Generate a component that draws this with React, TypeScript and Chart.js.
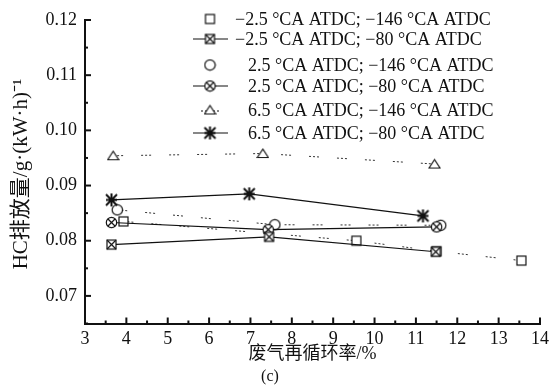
import React, { useEffect, useRef } from "react";
import { Chart, registerables } from "chart.js";

Chart.register(...registerables);

// ---- data ----
const xTicksMajor = [3, 4, 5, 6, 7, 8, 9, 10, 11, 12, 13, 14];
const yTicksMajor = [0.07, 0.08, 0.09, 0.1, 0.11, 0.12];

const s1X = [3.93, 9.56, 11.5, 13.55];
const s1Y = [0.0835, 0.08, 0.0781, 0.0764];
const s2X = [3.64, 7.45, 11.48];
const s2Y = [0.0793, 0.0807, 0.078];
const s3X = [3.78, 7.59, 11.6];
const s3Y = [0.0856, 0.0829, 0.0828];
const s4X = [3.64, 7.43, 11.5];
const s4Y = [0.0833, 0.082, 0.0825];
const s5X = [3.68, 7.3, 11.45];
const s5Y = [0.0954, 0.0958, 0.0939];
const s6X = [3.64, 6.97, 11.17];
const s6Y = [0.0874, 0.0885, 0.0845];

const seriesLabels = [
  "\u22122.5 \u00B0CA ATDC; \u2212146 \u00B0CA ATDC",
  "\u22122.5 \u00B0CA ATDC; \u221280 \u00B0CA ATDC",
  "2.5 \u00B0CA ATDC; \u2212146 \u00B0CA ATDC",
  "2.5 \u00B0CA ATDC; \u221280 \u00B0CA ATDC",
  "6.5 \u00B0CA ATDC; \u2212146 \u00B0CA ATDC",
  "6.5 \u00B0CA ATDC; \u221280 \u00B0CA ATDC",
];

const xTitle = "废气再循环率/%";
const yTitle = "HC排放量/g·(kW·h)\u207B\u00B9";
const caption = "(c)";

const FONT = "'Liberation Serif', 'Times New Roman', 'Noto Sans CJK SC', serif";
const INK = "#111";

function makeMarker(kind: string): HTMLCanvasElement {
  const size = kind === "star" ? 15 : 13;
  const c = document.createElement("canvas");
  c.width = size;
  c.height = size;
  const g = c.getContext("2d")!;
  const m = size / 2;
  g.strokeStyle = INK;
  g.fillStyle = "#fff";
  g.lineWidth = 1.2;
  if (kind === "square" || kind === "xsquare") {
    const h = 4.5;
    g.fillRect(m - h, m - h, 2 * h, 2 * h);
    g.strokeRect(m - h, m - h, 2 * h, 2 * h);
    if (kind === "xsquare") {
      g.beginPath();
      g.moveTo(m - h, m - h);
      g.lineTo(m + h, m + h);
      g.moveTo(m + h, m - h);
      g.lineTo(m - h, m + h);
      g.stroke();
    }
  } else if (kind === "circle" || kind === "xcircle") {
    const r = 5.2;
    g.beginPath();
    g.arc(m, m, r, 0, Math.PI * 2);
    g.fill();
    g.stroke();
    if (kind === "xcircle") {
      const d = r * 0.72;
      g.beginPath();
      g.moveTo(m - d, m - d);
      g.lineTo(m + d, m + d);
      g.moveTo(m + d, m - d);
      g.lineTo(m - d, m + d);
      g.stroke();
    }
  } else if (kind === "triangle") {
    g.beginPath();
    g.moveTo(m, m - 4.5);
    g.lineTo(m + 5.5, m + 4);
    g.lineTo(m - 5.5, m + 4);
    g.closePath();
    g.fill();
    g.stroke();
  } else if (kind === "star") {
    g.lineWidth = 2;
    const d = 5.5;
    g.beginPath();
    g.moveTo(m - d, m - d);
    g.lineTo(m + d, m + d);
    g.moveTo(m + d, m - d);
    g.lineTo(m - d, m + d);
    g.moveTo(m, m - d - 1);
    g.lineTo(m, m + d + 1);
    g.moveTo(m - d, m);
    g.lineTo(m + d, m);
    g.stroke();
  }
  return c;
}

const DASH = [2, 2, 2, 2, 2, 18];

export default function App() {
  const ref = useRef<HTMLCanvasElement | null>(null);

  useEffect(() => {
    document.body.style.margin = "0";
    const canvas = ref.current!;
    const markers = {
      square: makeMarker("square"),
      xsquare: makeMarker("xsquare"),
      circle: makeMarker("circle"),
      xcircle: makeMarker("xcircle"),
      triangle: makeMarker("triangle"),
      star: makeMarker("star"),
    };
    const defs = [
      { x: s1X, y: s1Y, m: markers.square, dashed: true },
      { x: s2X, y: s2Y, m: markers.xsquare, dashed: false },
      { x: s3X, y: s3Y, m: markers.circle, dashed: true },
      { x: s4X, y: s4Y, m: markers.xcircle, dashed: false },
      { x: s5X, y: s5Y, m: markers.triangle, dashed: true },
      { x: s6X, y: s6Y, m: markers.star, dashed: false },
    ];

    const isMajor = (v: number, step: number) =>
      Math.abs(v / step - Math.round(v / step)) < 1e-6;

    const tickPlugin = {
      id: "innerTicks",
      afterDraw(chart: any) {
        const ctx = chart.ctx;
        const xs = chart.scales.x;
        const ys = chart.scales.y;
        const area = chart.chartArea;
        ctx.save();
        ctx.strokeStyle = INK;
        ctx.lineWidth = 2;
        ys.ticks.forEach((t: any) => {
          const py = ys.getPixelForValue(t.value);
          const len = isMajor(t.value, 0.01) ? 6 : 3;
          ctx.beginPath();
          ctx.moveTo(area.left, py);
          ctx.lineTo(area.left + len, py);
          ctx.stroke();
        });
        xs.ticks.forEach((t: any) => {
          const px = xs.getPixelForValue(t.value);
          const len = isMajor(t.value, 1) ? 6 : 3;
          ctx.beginPath();
          ctx.moveTo(px, area.bottom);
          ctx.lineTo(px, area.bottom - len);
          ctx.stroke();
        });
        // y-axis title
        ctx.save();
        ctx.translate(21, 174);
        ctx.rotate(-Math.PI / 2);
        ctx.font = "21px " + FONT;
        ctx.fillStyle = INK;
        ctx.textAlign = "center";
        ctx.textBaseline = "middle";
        ctx.fillText(yTitle, 0, 0);
        ctx.restore();
        ctx.restore();
      },
    };

    const legendPlugin = {
      id: "customLegend",
      afterDraw(chart: any) {
        const ctx = chart.ctx;
        const rows = [19, 39, 65, 86, 110, 133];
        const markerX = 210;
        ctx.save();
        ctx.font = "18px " + FONT;
        ctx.fillStyle = INK;
        ctx.textBaseline = "middle";
        defs.forEach((d, i) => {
          const y = rows[i];
          ctx.strokeStyle = INK;
          if (!d.dashed) {
            ctx.lineWidth = 1.2;
            ctx.setLineDash([]);
            ctx.beginPath();
            ctx.moveTo(193, y);
            ctx.lineTo(228, y);
            ctx.stroke();
          } else if (i === 4) {
            ctx.lineWidth = 1;
            ctx.setLineDash([2, 2]);
            ctx.beginPath();
            ctx.moveTo(201, y + 1);
            ctx.lineTo(220, y + 1);
            ctx.stroke();
            ctx.setLineDash([]);
          }
          ctx.drawImage(d.m, markerX - d.m.width / 2, y - d.m.height / 2);
          const tx = i < 2 ? 235 : 248;
          ctx.fillText(seriesLabels[i], tx, y + 1);
        });
        ctx.restore();
      },
    };

    const chart = new Chart(canvas, {
      type: "line",
      data: {
        datasets: defs.map((d, i) => ({
          label: seriesLabels[i],
          data: d.x.map((xv, k) => ({ x: xv, y: d.y[k] })),
          borderColor: d.dashed ? "#333" : INK,
          borderWidth: d.dashed ? 1 : 1.2,
          borderDash: d.dashed ? DASH : [],
          pointStyle: d.m as any,
          pointRadius: 5,
          tension: 0,
          fill: false,
          order: d.dashed ? 2 : 1,
        })),
      },
      options: {
        animation: false,
        responsive: false,
        maintainAspectRatio: false,
        layout: { padding: { left: 0, right: 14, top: 20, bottom: 0 } },
        plugins: {
          legend: { display: false },
          tooltip: { enabled: false },
          subtitle: {
            display: true,
            position: "bottom",
            text: caption,
            color: INK,
            font: { family: FONT, size: 16, weight: "normal" },
            padding: { top: 2, bottom: 4 },
          },
        },
        scales: {
          x: {
            type: "linear",
            min: 3,
            max: 14,
            afterFit(scale: any) {
              scale.height = 41.3;
            },
            ticks: {
              stepSize: 0.5,
              autoSkip: false,
              maxRotation: 0,
              padding: 5,
              color: INK,
              font: { family: FONT, size: 18 },
              callback: (v: any) =>
                xTicksMajor.some((t) => Math.abs(t - Number(v)) < 1e-6) ? String(Math.round(Number(v))) : "",
            },
            grid: { display: false, drawTicks: false },
            border: { display: true, width: 2, color: INK },
            title: {
              display: true,
              text: xTitle,
              color: INK,
              font: { family: FONT, size: 18 },
              padding: { top: 0, bottom: 0 },
            },
          },
          y: {
            type: "linear",
            min: 0.065,
            max: 0.12,
            afterFit(scale: any) {
              scale.width = 85;
            },
            ticks: {
              stepSize: 0.005,
              autoSkip: false,
              padding: 8,
              color: INK,
              font: { family: FONT, size: 18 },
              callback: (v: any) => {
                const n = Number(v);
                const hit = yTicksMajor.find((t) => Math.abs(t - n) < 1e-7);
                return hit !== undefined ? hit.toFixed(2) : "";
              },
            },
            grid: { display: false, drawTicks: false },
            border: { display: true, width: 2, color: INK },
          },
        },
      },
      plugins: [tickPlugin, legendPlugin],
    });

    return () => chart.destroy();
  }, []);

  return (
    <div style={{ position: "absolute", left: 0, top: 0, width: 554, height: 390, background: "#fff" }}>
      <canvas ref={ref} width={554} height={390} />
    </div>
  );
}
